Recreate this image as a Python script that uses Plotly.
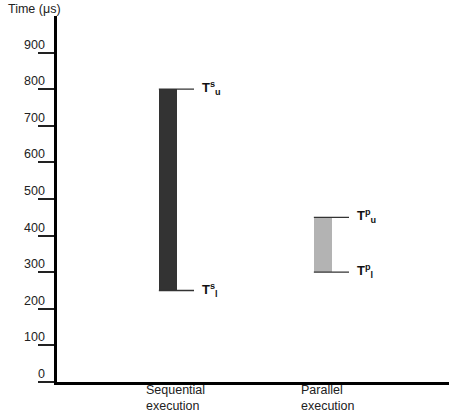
import plotly.graph_objects as go

categories = ["Sequential<br>execution", "Parallel<br>execution"]
lower_times = [250, 300]
upper_times = [800, 450]
bar_colors = ["#333333", "#b3b3b3"]
upper_labels = ["<b>T<sup>s</sup><sub>u</sub></b>", "<b>T<sup>p</sup><sub>u</sub></b>"]
lower_labels = ["<b>T<sup>s</sup><sub>l</sub></b>", "<b>T<sup>p</sup><sub>l</sub></b>"]
y_ticks = [0, 100, 200, 300, 400, 500, 600, 700, 800, 900]

W, H = 449, 419
L, R, T, B = 57, 0, 16, 37
PX_PER_UNIT = 155.0
bar_w = 18.3 / PX_PER_UNIT
bracket_ext = 26 / PX_PER_UNIT
label_off = 24 / PX_PER_UNIT
FONT = "Liberation Sans, Arial, sans-serif"

fig = go.Figure()
xs = list(range(len(categories)))

for i in xs:
    fig.add_trace(go.Bar(
        x=[i], y=[upper_times[i] - lower_times[i]], base=[lower_times[i]],
        width=bar_w, marker=dict(color=bar_colors[i], line=dict(width=0)),
        showlegend=False, hoverinfo="skip"))
    for val in (upper_times[i], lower_times[i]):
        fig.add_trace(go.Scatter(
            x=[i - bar_w / 2, i + bracket_ext], y=[val, val], mode="lines",
            line=dict(color="#333333", width=1.3), showlegend=False, hoverinfo="skip"))
    fig.add_annotation(x=i + bracket_ext, y=upper_times[i], xref="x", yref="y",
                       text=upper_labels[i], showarrow=False, xanchor="left",
                       yanchor="middle", xshift=6, yshift=1,
                       font=dict(family=FONT, size=13, color="#111111"))
    fig.add_annotation(x=i + bracket_ext, y=lower_times[i], xref="x", yref="y",
                       text=lower_labels[i], showarrow=False, xanchor="left",
                       yanchor="middle", xshift=6, yshift=1,
                       font=dict(family=FONT, size=13, color="#111111"))
    fig.add_annotation(x=i - label_off, y=0, xref="x", yref="paper",
                       text=categories[i], showarrow=False, xanchor="left",
                       yanchor="top", align="left", yshift=1,
                       font=dict(family=FONT, size=12.5, color="#222222"))

for v in y_ticks:
    fig.add_annotation(x=0, y=v, xref="paper", yref="y", text=str(v),
                       showarrow=False, xanchor="right", yanchor="bottom",
                       xshift=-10, yshift=-1,
                       font=dict(family=FONT, size=12.5, color="#222222"))

fig.add_annotation(x=0, y=1, xref="paper", yref="paper", text="Time (μs)",
                   showarrow=False, xanchor="left", yanchor="bottom",
                   xshift=-(L - 6), yshift=-2,
                   font=dict(family=FONT, size=12.5, color="#222222"))

fig.update_layout(
    width=W, height=H, margin=dict(l=L, r=R, t=T, b=B),
    paper_bgcolor="white", plot_bgcolor="white",
    xaxis=dict(range=[-111 / PX_PER_UNIT, 281 / PX_PER_UNIT], showgrid=False,
               zeroline=False, showticklabels=False, ticks="",
               showline=True, linecolor="black", linewidth=3),
    yaxis=dict(range=[0, 1000], showgrid=False, zeroline=False,
               tickvals=y_ticks, showticklabels=False, ticks="outside",
               ticklen=16, tickwidth=1.5, tickcolor="#222222",
               showline=True, linecolor="black", linewidth=3),
    bargap=0,
)

fig.write_html("out.html")
